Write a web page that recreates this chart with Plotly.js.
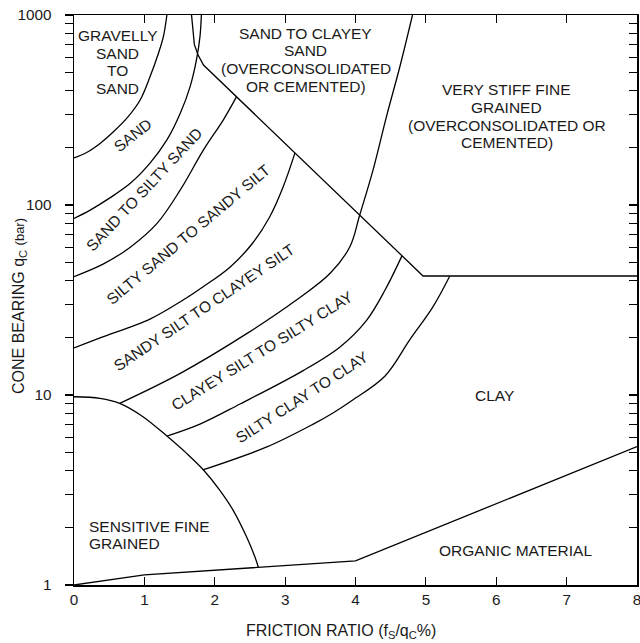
<!DOCTYPE html>
<html>
<head>
<meta charset="utf-8">
<script src="https://cdn.plot.ly/plotly-3.0.1.min.js"></script>
<style>html,body{margin:0;padding:0;background:#fff;}#chart{width:640px;height:643px;}</style>
</head>
<body>
<div id="chart"></div>
<script>
// ---- Boundary data (x = friction ratio %, q = cone bearing, bar) ----
const curveAx = [0, 0.18, 0.37, 0.56, 0.77, 0.94, 1.08, 1.2, 1.27, 1.32];
const curveAq = [177, 189, 211, 243, 292, 357, 473, 629, 769, 1000];
const curveBx = [0, 0.23, 0.51, 0.8, 1.08, 1.32, 1.51, 1.65, 1.74, 1.79, 1.81];
const curveBq = [85, 94, 109, 130, 166, 220, 304, 420, 580, 769, 1000];
const zone12x = [1.67, 1.69, 1.71, 1.76, 1.84, 4.96, 8];
const zone12q = [1000, 850, 700, 620, 545, 42.3, 42.3];
const curveCx = [0, 0.42, 0.8, 1.18, 1.51, 1.84, 2.12, 2.31];
const curveCq = [42, 49, 60, 80, 120, 195, 280, 372];
const curveDx = [0, 0.37, 1.08, 1.55, 1.83, 2.22, 2.54, 2.78, 2.97, 3.14];
const curveDq = [17.7, 20, 25.1, 31.6, 37, 47.2, 63.1, 86.5, 124, 188];
const curveEx = [4.81, 4.63, 4.44, 4.25, 4.06, 3.92, 3.64, 3.16, 2.46, 1.51, 0.65];
const curveEq = [1000, 534, 292, 153, 88.6, 60.3, 43.7, 31.6, 21.1, 13, 9.04];
const curveFx = [1.32, 1.79, 2.36, 3.25, 3.78, 4.16, 4.42, 4.66];
const curveFq = [6.08, 7.03, 8.97, 13.4, 17.9, 24.8, 35.7, 54];
const curveGx = [1.83, 2.74, 3.4, 3.68, 3.96, 4.42, 4.77, 5.1, 5.34];
const curveGq = [4.03, 5.33, 7.03, 8.04, 9.41, 12.6, 19.5, 29.1, 42.3];
const sensX = [0, 0.37, 0.65, 0.98, 1.32, 1.6, 1.84, 2.07, 2.26, 2.45, 2.57, 2.62];
const sensQ = [9.79, 9.61, 9.04, 7.69, 6.08, 4.93, 4.03, 3.16, 2.48, 1.8, 1.41, 1.24];
const organicX = [0, 1, 4, 8];
const organicQ = [1, 1.13, 1.34, 5.35];

// ---- Tick values / labels ----
const xTickVals = [0, 1, 2, 3, 4, 5, 6, 7, 8];
const xTickText = ['0', '1', '2', '3', '4', '5', '6', '7', '8'];
const yTickVals = [1,2,3,4,5,6,7,8,9,10,20,30,40,50,60,70,80,90,100,200,300,400,500,600,700,800,900,1000];
const yTickText = yTickVals.map(v => ([1,10,100,1000].includes(v) ? String(v) : ''));

// ---- Zone label texts ----
const flatLabels = ['GRAVELLY', 'SAND', 'TO', 'SAND',
  'SAND TO CLAYEY', 'SAND', '(OVERCONSOLIDATED', 'OR CEMENTED)',
  'VERY STIFF FINE', 'GRAINED', '(OVERCONSOLIDATED OR', 'CEMENTED)',
  'CLAY', 'SENSITIVE FINE', 'GRAINED', 'ORGANIC MATERIAL'];
const rotLabels = ['SAND', 'SAND TO SILTY SAND', 'SILTY SAND TO SANDY SILT',
  'SANDY SILT TO CLAYEY SILT', 'CLAYEY SILT TO SILTY CLAY', 'SILTY CLAY TO CLAY'];

// label placement (positions, in x and log10(q))
const flatPos = [
  [0.625, 2.8905, 'center'], [0.625, 2.7979, 'center'], [0.625, 2.7053, 'center'], [0.625, 2.6126, 'center'],
  [3.295, 2.9039, 'center'], [3.295, 2.8113, 'center'], [3.295, 2.7187, 'center'], [3.295, 2.6261, 'center'],
  [6.151, 2.6055, 'center'], [6.151, 2.5129, 'center'], [6.151, 2.4203, 'center'], [6.151, 2.3276, 'center'],
  [5.98, 0.995, 'center'], [0.189, 0.3095, 'left'], [0.189, 0.2168, 'left'], [6.276, 0.180, 'center']];
const rotPos = [
  [0.828, 2.368, -38], [0.994, 2.084, -47], [1.619, 1.847, -40],
  [1.847, 1.461, -34], [2.678, 1.232, -32], [3.234, 0.987, -33]];

const FONT = 'Liberation Sans, Arial, Helvetica, sans-serif';
const INK = '#1a1a1a';
const lineStyle = {color: '#000', width: 1.3};

function curve(x, y, shape) {
  return {x: x, y: y, type: 'scatter', mode: 'lines', hoverinfo: 'skip',
    line: Object.assign({}, lineStyle, {shape: shape || 'spline', smoothing: 1}), showlegend: false};
}

const traces = [
  curve(curveAx, curveAq), curve(curveBx, curveBq), curve(zone12x, zone12q, 'linear'),
  curve(curveCx, curveCq), curve(curveDx, curveDq), curve(curveEx, curveEq),
  curve(curveFx, curveFq), curve(curveGx, curveGq), curve(sensX, sensQ),
  curve(organicX, organicQ, 'linear'),
  {x: [], y: [], yaxis: 'y2', type: 'scatter', mode: 'lines', showlegend: false}
];

const labelFont = {family: FONT, size: 15.5, color: INK};
const annotations = [];
flatLabels.forEach((t, i) => {
  const p = flatPos[i];
  annotations.push({text: t, x: p[0], y: p[1], xref: 'x', yref: 'y', showarrow: false,
    xanchor: p[2], yanchor: 'middle', font: labelFont});
});
rotLabels.forEach((t, i) => {
  const p = rotPos[i];
  annotations.push({text: t, x: p[0], y: p[1], xref: 'x', yref: 'y', showarrow: false,
    xanchor: 'center', yanchor: 'middle', textangle: p[2], font: labelFont});
});
// axis titles
annotations.push({text: 'FRICTION RATIO (f<sub>S</sub>/q<sub>C</sub>%)', xref: 'paper', yref: 'paper',
  x: 0.474, y: 0, yshift: -46, xanchor: 'center', yanchor: 'middle', showarrow: false,
  font: {family: FONT, size: 16, color: INK}});
annotations.push({text: 'CONE BEARING q<sub>C</sub> <span style="font-size:13px">(bar)</span>', xref: 'paper', yref: 'paper',
  x: 0, y: 0.5, xshift: -55, yshift: -6, xanchor: 'center', yanchor: 'middle', textangle: -90, showarrow: false,
  font: {family: FONT, size: 16, color: INK}});

const layout = {
  width: 640, height: 643,
  margin: {l: 74, r: 3, t: 15, b: 58},
  paper_bgcolor: '#fff', plot_bgcolor: '#fff',
  font: {family: FONT, size: 15.3, color: INK},
  showlegend: false,
  xaxis: {range: [0, 8], tickvals: xTickVals, ticktext: xTickText, ticks: 'inside', ticklen: 8,
    tickwidth: 1.2, tickcolor: '#000', showline: true, linecolor: '#000', linewidth: 1.5,
    mirror: 'ticks', showgrid: false, zeroline: false, fixedrange: true, ticklabeloverflow: 'allow',
    tickfont: {family: FONT, size: 15.3, color: INK}},
  yaxis: {type: 'log', range: [0, 3], tickvals: yTickVals, ticktext: yTickText, ticks: 'outside',
    ticklen: 8, tickwidth: 1.2, tickcolor: '#000', showline: true, linecolor: '#000', linewidth: 1.5,
    showgrid: false, zeroline: false, fixedrange: true, ticklabelstandoff: 10,
    tickfont: {family: FONT, size: 15.3, color: INK}},
  yaxis2: {type: 'log', range: [0, 3], overlaying: 'y', side: 'right', anchor: 'x',
    tickvals: yTickVals, ticks: 'inside', ticklen: 8, tickwidth: 1.2, tickcolor: '#000',
    showticklabels: false, showline: true, linecolor: '#000', linewidth: 1.5,
    showgrid: false, zeroline: false, fixedrange: true},
  annotations: annotations
};

Plotly.newPlot('chart', traces, layout, {displayModeBar: false, staticPlot: true});
</script>
</body>
</html>
